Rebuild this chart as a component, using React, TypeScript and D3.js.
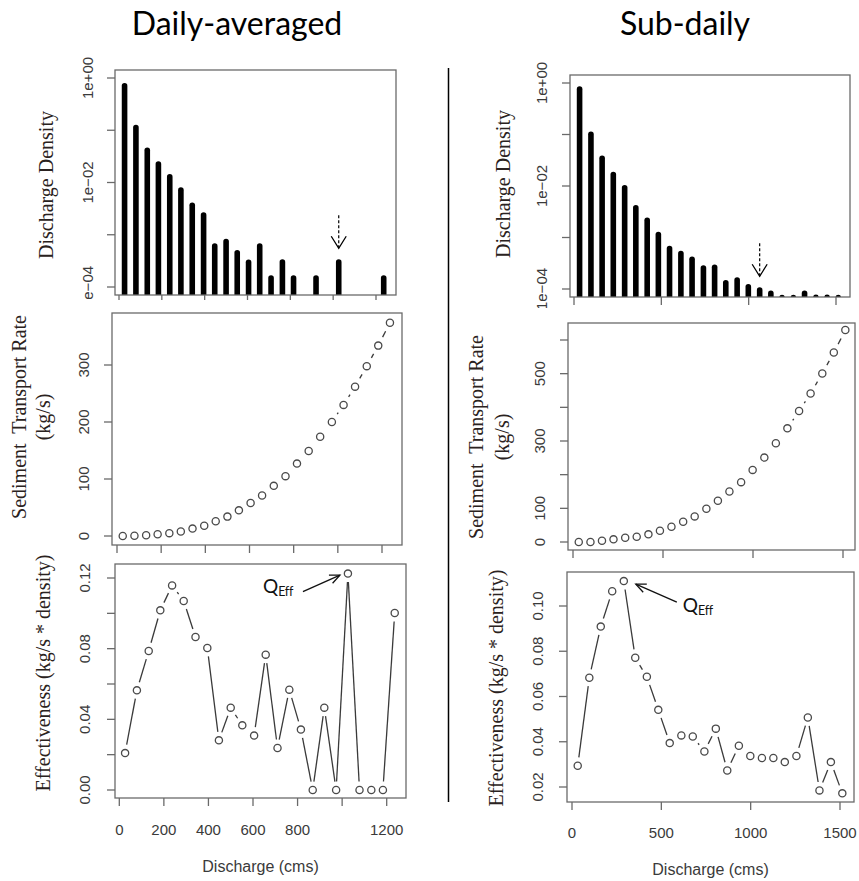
import React from "react";
import * as d3 from "d3";

// ---------- DATA ----------
// Daily-averaged (bin centres, cms)
const dailyQ = [26, 79, 132, 184, 237, 289, 342, 395, 447, 500, 552, 605, 657, 710, 763, 815, 868, 920, 973, 1026, 1078, 1131, 1183, 1236];
const dailyDensity = [0.8, 0.127, 0.0467, 0.0255, 0.0146, 0.00808, 0.00416, 0.00271, 0.000689, 0.000835, 0.000513, 0.000335, 0.000689, 0.000168, 0.00034, 0.000168, 0, 0.000168, 0, 0.00034, 0, 0, 0, 0.000168];
const dailyRate = [0, 0.5, 1.2, 3, 5, 8, 13, 18, 26, 34, 45, 58, 71, 88, 105, 127, 149, 174, 200, 230, 262, 298, 334, 374];
const dailyEff = [0.0209, 0.0564, 0.0787, 0.1017, 0.1158, 0.107, 0.0866, 0.0804, 0.0281, 0.0466, 0.0366, 0.0308, 0.0766, 0.0238, 0.0568, 0.0342, 0, 0.0466, 0, 0.1225, 0, 0, 0, 0.1002];
const dailyEffIdx = 19;

// Sub-daily (bin centres, cms)
const subQ = [32, 97, 161, 225, 290, 354, 419, 483, 547, 612, 676, 741, 805, 869, 934, 998, 1063, 1127, 1191, 1256, 1320, 1385, 1449, 1513];
const subDensity = [0.86, 0.114, 0.039, 0.019, 0.0105, 0.00426, 0.00245, 0.00129, 0.000688, 0.00055, 0.000427, 0.00029, 0.0003, 0.00015, 0.00017, 0.000125, 0.000108, 0.000093, 0.000077, 0.000077, 0.000093, 0.000078, 0.000078, 0.000077];
const subRate = [0, 0, 3.9, 7.9, 12.8, 15.8, 22.7, 33.6, 45.4, 60.2, 76, 98.7, 122.4, 150, 177.8, 214.2, 250.7, 293.2, 337.6, 389, 441.3, 500.5, 562.7, 629.8];
const subEff = [0.0294, 0.0683, 0.0909, 0.1065, 0.111, 0.0771, 0.0687, 0.0541, 0.0394, 0.0428, 0.0423, 0.0357, 0.0458, 0.0273, 0.0382, 0.0337, 0.0328, 0.0328, 0.031, 0.0337, 0.0507, 0.0185, 0.031, 0.0172];
const subEffIdx = 4;
const subArrowIdx = 16;

// Ticks
const dailyXTicks = [0, 200, 400, 600, 800, 1000, 1200];
const dailyXLabels = ["0", "200", "400", "600", "800", "", "1200"];
const subXTicks = [0, 500, 1000, 1500];
const subXLabels = ["0", "500", "1000", "1500"];
const densityTicks = [1, 0.1, 0.01, 0.001, 0.0001];
const densityLabels = ["1e+00", "", "1e\u221202", "", "1e\u221204"];
const dailyRateTicks = [0, 100, 200, 300];
const dailyRateLabels = ["0", "100", "200", "300"];
const subRateTicks = [0, 100, 200, 300, 400, 500, 600];
const subRateLabels = ["0", "100", "", "300", "", "500", ""];
const dailyEffTicks = [0, 0.02, 0.04, 0.06, 0.08, 0.1, 0.12];
const dailyEffLabels = ["0.00", "", "0.04", "", "0.08", "", "0.12"];
const subEffTicks = [0.02, 0.04, 0.06, 0.08, 0.1];
const subEffLabels = ["0.02", "0.04", "0.06", "0.08", "0.10"];

const titles = ["Daily-averaged", "Sub-daily"];

// ---------- STYLE ----------
const SANS = "'Liberation Sans', Arial, sans-serif";
const SERIF = "'Liberation Serif', 'Times New Roman', serif";
const CAL = "Lato, 'Open Sans', sans-serif";
const AXIS = "#6a6a6a";
const TXT = "#3a3a3a";
const PT = "#4a4a4a";
const TICK = 8;

type Box = { l: number; t: number; r: number; b: number };

function Frame({ box }: { box: Box }) {
  return <rect x={box.l} y={box.t} width={box.r - box.l} height={box.b - box.t} fill="none" stroke={AXIS} strokeWidth={1.3} />;
}

function XTicks({ x, ticks, labels, box, labelY }: any) {
  return (
    <g>
      {ticks.map((t: number, i: number) => (
        <g key={i}>
          <line x1={x(t)} x2={x(t)} y1={box.b} y2={box.b + TICK} stroke={AXIS} strokeWidth={1.3} />
          {labels && labels[i] ? (
            <text x={x(t)} y={labelY} textAnchor="middle" fontFamily={SANS} fontSize={15} fill={TXT}>{labels[i]}</text>
          ) : null}
        </g>
      ))}
    </g>
  );
}

function YTicks({ y, ticks, labels, box, labelX }: any) {
  return (
    <g>
      {ticks.map((t: number, i: number) => (
        <g key={i}>
          <line x1={box.l - TICK} x2={box.l} y1={y(t)} y2={y(t)} stroke={AXIS} strokeWidth={1.3} />
          {labels[i] ? (
            <text transform={`translate(${labelX},${y(t)}) rotate(-90)`} textAnchor="middle" dy="0.36em" fontFamily={SANS} fontSize={15} fill={TXT}>{labels[i]}</text>
          ) : null}
        </g>
      ))}
    </g>
  );
}

function VTitle({ x, y, lines, lineGap }: { x: number; y: number; lines: string[]; lineGap?: number }) {
  return (
    <g>
      {lines.map((s, i) => (
        <text key={i} transform={`translate(${x + i * (lineGap || 26)},${y}) rotate(-90)`} textAnchor="middle" fontFamily={SERIF} fontSize={20} fill="#2a2220" style={{ whiteSpace: "pre" }}>{s}</text>
      ))}
    </g>
  );
}

function typeB(pts: [number, number][], gap: number) {
  const segs: [number, number, number, number][] = [];
  for (let i = 0; i < pts.length - 1; i++) {
    const [x1, y1] = pts[i];
    const [x2, y2] = pts[i + 1];
    const dx = x2 - x1, dy = y2 - y1;
    const d = Math.hypot(dx, dy);
    if (d > 2 * gap + 1) {
      const ux = dx / d, uy = dy / d;
      segs.push([x1 + ux * gap, y1 + uy * gap, x2 - ux * gap, y2 - uy * gap]);
    }
  }
  return segs;
}

function PointsB({ pts, gap }: { pts: [number, number][]; gap: number }) {
  return (
    <g>
      {typeB(pts, gap).map((s, i) => (
        <line key={"s" + i} x1={s[0]} y1={s[1]} x2={s[2]} y2={s[3]} stroke="#3a3a3a" strokeWidth={1.3} />
      ))}
      {pts.map((p, i) => (
        <circle key={"c" + i} cx={p[0]} cy={p[1]} r={3.6} fill="none" stroke={PT} strokeWidth={1.3} />
      ))}
    </g>
  );
}

function Hist({ id, q, dens, box, xDom, xRange, yRange, xTicks, labelX, arrowIdx, clipY, title }: any) {
  const x = d3.scaleLinear().domain(xDom).range(xRange);
  const y = d3.scaleLog().domain([1e-4, 1]).range(yRange);
  const capR = 2.8;
  const ax = x(q[arrowIdx]);
  const tip = y(dens[arrowIdx]) - 11;
  const tail = tip - 33;
  return (
    <g clipPath={`url(#clip-${id})`}>
      <defs>
        <clipPath id={`clip-${id}`}>
          <rect x={box.l - 120} y={0} width={box.r - box.l + 240} height={clipY} />
        </clipPath>
        <clipPath id={`plot-${id}`}>
          <rect x={box.l} y={box.t} width={box.r - box.l} height={box.b - box.t} />
        </clipPath>
      </defs>
      <g clipPath={`url(#plot-${id})`}>
        {q.map((v: number, i: number) =>
          dens[i] > 0 ? (
            <line key={i} x1={x(v)} x2={x(v)} y1={y(dens[i]) + capR} y2={box.b + 6} stroke="#000" strokeWidth={5.6} strokeLinecap="round" />
          ) : null
        )}
      </g>
      <Frame box={box} />
      <XTicks x={x} ticks={xTicks} box={box} />
      <YTicks y={y} ticks={densityTicks} labels={densityLabels} box={box} labelX={labelX} />
      <line x1={ax} x2={ax} y1={tail} y2={tip} stroke="#000" strokeWidth={1.2} strokeDasharray="3,2" />
      <path d={`M${ax - 7.5},${tip - 12}L${ax},${tip}L${ax + 7.5},${tip - 12}`} fill="none" stroke="#000" strokeWidth={1.3} />
      <VTitle x={title.x} y={title.y} lines={["Discharge Density"]} />
    </g>
  );
}

function Rate({ q, rate, box, xDom, xRange, yDom, yRange, xTicks, yTicks, yLabels, labelX, title }: any) {
  const x = d3.scaleLinear().domain(xDom).range(xRange);
  const y = d3.scaleLinear().domain(yDom).range(yRange);
  const pts = q.map((v: number, i: number) => [x(v), y(rate[i])] as [number, number]);
  return (
    <g>
      <PointsB pts={pts} gap={9.5} />
      <Frame box={box} />
      <XTicks x={x} ticks={xTicks} box={box} />
      <YTicks y={y} ticks={yTicks} labels={yLabels} box={box} labelX={labelX} />
      <VTitle x={title.x} y={title.y} lines={["Sediment  Transport Rate", "(kg/s)"]} lineGap={title.gap} />
    </g>
  );
}

function Eff({ q, eff, box, xDom, xRange, yDom, yRange, xTicks, xLabels, yTicks, yLabels, labelX, labelY, title, effIdx, ann }: any) {
  const x = d3.scaleLinear().domain(xDom).range(xRange);
  const y = d3.scaleLinear().domain(yDom).range(yRange);
  const pts = q.map((v: number, i: number) => [x(v), y(eff[i])] as [number, number]);
  const px = x(q[effIdx]);
  const py = y(eff[effIdx]);
  const tx = px + ann.tip[0], ty = py + ann.tip[1];
  const sx = px + ann.tail[0], sy = py + ann.tail[1];
  const ang = Math.atan2(ty - sy, tx - sx);
  const hl = 11, ha = 0.42;
  const h1 = [tx - hl * Math.cos(ang - ha), ty - hl * Math.sin(ang - ha)];
  const h2 = [tx - hl * Math.cos(ang + ha), ty - hl * Math.sin(ang + ha)];
  return (
    <g>
      <PointsB pts={pts} gap={8.5} />
      <Frame box={box} />
      <XTicks x={x} ticks={xTicks} labels={xLabels} box={box} labelY={labelY} />
      <YTicks y={y} ticks={yTicks} labels={yLabels} box={box} labelX={labelX} />
      <VTitle x={title.x} y={title.y} lines={["Effectiveness (kg/s * density)"]} />
      <line x1={sx} y1={sy} x2={tx} y2={ty} stroke="#111" strokeWidth={1.3} />
      <path d={`M${h1[0]},${h1[1]}L${tx},${ty}L${h2[0]},${h2[1]}`} fill="none" stroke="#111" strokeWidth={1.3} />
      <text x={px + ann.label[0]} y={py + ann.label[1]} fontFamily={CAL} fontSize={19} fill="#111">
        Q<tspan fontSize={12.5} dy={3} letterSpacing={-0.3}>Eff</tspan>
      </text>
      <text x={(box.l + box.r) / 2} y={ann.axisY} textAnchor="middle" fontFamily={SANS} fontSize={16} fill={TXT}>Discharge (cms)</text>
    </g>
  );
}

export default function App() {
  return (
    <svg width={859} height={881} viewBox="0 0 859 881" style={{ display: "block", position: "absolute", left: 0, top: 0, background: "#fff" }}>
      <rect x={0} y={0} width={859} height={881} fill="#fff" />
      <text x={237} y={35} textAnchor="middle" fontFamily={CAL} fontSize={32} fill="#000">{titles[0]}</text>
      <text x={685} y={35} textAnchor="middle" fontFamily={CAL} fontSize={32} fill="#000">{titles[1]}</text>
      <line x1={448.5} x2={448.5} y1={68} y2={802} stroke="#000" strokeWidth={1.5} />

      {/* Daily-averaged */}
      <Hist id="tl" q={dailyQ} dens={dailyDensity} box={{ l: 115, t: 70, r: 396, b: 295 }}
        xDom={[0, 1200]} xRange={[119, 376]} yRange={[287, 78]} xTicks={dailyXTicks}
        labelX={88} arrowIdx={dailyEffIdx} clipY={300} title={{ x: 53, y: 185 }} />
      <Rate q={dailyQ} rate={dailyRate} box={{ l: 112, t: 313, r: 402, b: 545 }}
        xDom={[0, 1200]} xRange={[117, 382]} yDom={[0, 300]} yRange={[536, 365]}
        xTicks={dailyXTicks} yTicks={dailyRateTicks} yLabels={dailyRateLabels} labelX={84}
        title={{ x: 26, y: 417, gap: 24 }} />
      <Eff q={dailyQ} eff={dailyEff} box={{ l: 115, t: 564, r: 406, b: 798 }}
        xDom={[0, 1200]} xRange={[119.3, 386.7]} yDom={[0, 0.12]} yRange={[790, 578]}
        xTicks={dailyXTicks} xLabels={dailyXLabels} yTicks={dailyEffTicks} yLabels={dailyEffLabels}
        labelX={85} labelY={835} title={{ x: 50, y: 673 }} effIdx={dailyEffIdx}
        ann={{ tip: [-8, 1.5], tail: [-45, 18], label: [-85, 19], axisY: 872 }} />

      {/* Sub-daily */}
      <Hist id="tr" q={subQ} dens={subDensity} box={{ l: 570, t: 75, r: 850, b: 297 }}
        xDom={[0, 1500]} xRange={[574, 836]} yRange={[289, 83]} xTicks={subXTicks}
        labelX={542} arrowIdx={subArrowIdx} clipY={308} title={{ x: 510, y: 184 }} />
      <Rate q={subQ} rate={subRate} box={{ l: 568, t: 323, r: 855, b: 550 }}
        xDom={[0, 1500]} xRange={[573, 843]} yDom={[0, 600]} yRange={[542, 340]}
        xTicks={subXTicks} yTicks={subRateTicks} yLabels={subRateLabels} labelX={540}
        title={{ x: 483, y: 437, gap: 26 }} />
      <Eff q={subQ} eff={subEff} box={{ l: 567, t: 572, r: 854, b: 802 }}
        xDom={[0, 1500]} xRange={[572, 840]} yDom={[0.02, 0.1]} yRange={[787, 606]}
        xTicks={subXTicks} xLabels={subXLabels} yTicks={subEffTicks} yLabels={subEffLabels}
        labelX={538} labelY={838} title={{ x: 503, y: 688 }} effIdx={subEffIdx}
        ann={{ tip: [12, 3], tail: [53, 21], label: [59, 31], axisY: 875 }} />
    </svg>
  );
}
